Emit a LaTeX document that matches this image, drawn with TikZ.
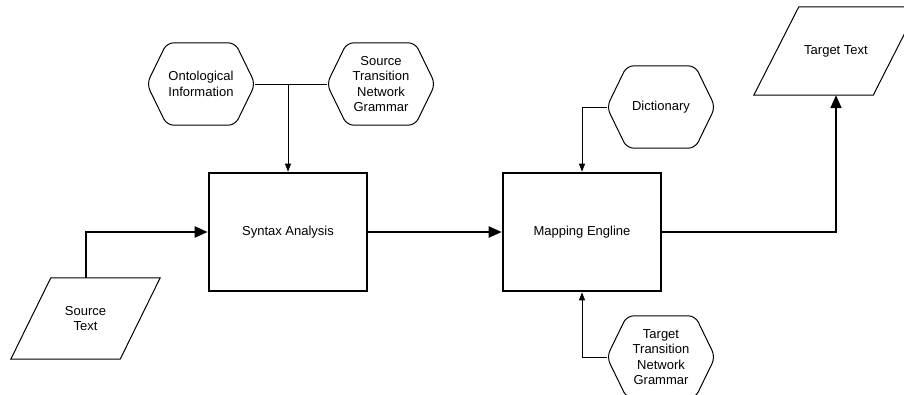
\documentclass[tikz,border=0pt]{standalone}
\usepackage{fontspec}
\setmainfont{Liberation Sans}
\usetikzlibrary{arrows.meta}
\newcommand\hexdraw[1]{\draw[hexline] (#1.west) -- ([xshift=20pt]#1.north west) -- ([xshift=-20pt]#1.north east) -- (#1.east) -- ([xshift=-20pt]#1.south east) -- ([xshift=20pt]#1.south west) -- cycle;}
\begin{document}
\begin{tikzpicture}[x=1pt,y=-1pt,
  txt/.style={align=center, inner sep=0pt, font=\fontsize{13}{15.5}\selectfont},
  procbox/.style={txt, draw, line width=2.6pt, minimum width=158pt, minimum height=118pt},
  hexnode/.style={txt, minimum width=108pt, minimum height=82pt},
  hexline/.style={line width=1pt, rounded corners=7pt, line join=round},
  thickarrow/.style={line width=2pt, -{Triangle[length=13pt,width=11pt]}},
  thinline/.style={line width=1pt},
  thinarrow/.style={line width=1pt, -{Triangle[length=8pt,width=6pt]}},
  paraline/.style={line width=1pt, line join=miter}
]
\useasboundingbox (0,0) rectangle (904,394);
\clip (0,0) rectangle (904,394);

% process boxes
\node[procbox] (syn) at (288,232) {Syntax Analysis};
\node[procbox] (map) at (582,232) {Mapping Engline};

% hexagons
\node[hexnode] (onto) at (201,84) {Ontological\\Information};
\hexdraw{onto}
\node[hexnode] (stng) at (381,84) {Source\\Transition\\Network\\Grammar};
\hexdraw{stng}
\node[hexnode] (dict) at (661,107) {Dictionary};
\hexdraw{dict}
\node[hexnode] (ttng) at (661,357) {Target\\Transition\\Network\\Grammar};
\hexdraw{ttng}

% parallelograms
\node[txt, minimum width=149pt, minimum height=81pt] (srct) at (85.5,318.5) {Source\\Text};
\draw[paraline] (srct.south west) -- ([xshift=40pt]srct.north west) -- (srct.north east) -- ([xshift=-40pt]srct.south east) -- cycle;
\node[txt, minimum width=164pt, minimum height=88pt] (tgt) at (836,51) {Target Text};
\draw[paraline] (tgt.south west) -- ([xshift=45pt]tgt.north west) -- (tgt.north east) -- ([xshift=-45pt]tgt.south east) -- cycle;

% connectors
\coordinate (junc) at (syn.north |- onto.east);
\draw[thinline] (onto.east) -- (stng.west);
\draw[thinarrow] (junc) -- (syn.north);
\draw[thickarrow] (srct.north) |- (syn.west);
\draw[thickarrow] (syn.east) -- (map.west);
\draw[thickarrow] (map.east) -| (tgt.south);
\draw[thinarrow] (dict.west) -| (map.north);
\draw[thinarrow] (ttng.west) -| (map.south);
\end{tikzpicture}
\end{document}
